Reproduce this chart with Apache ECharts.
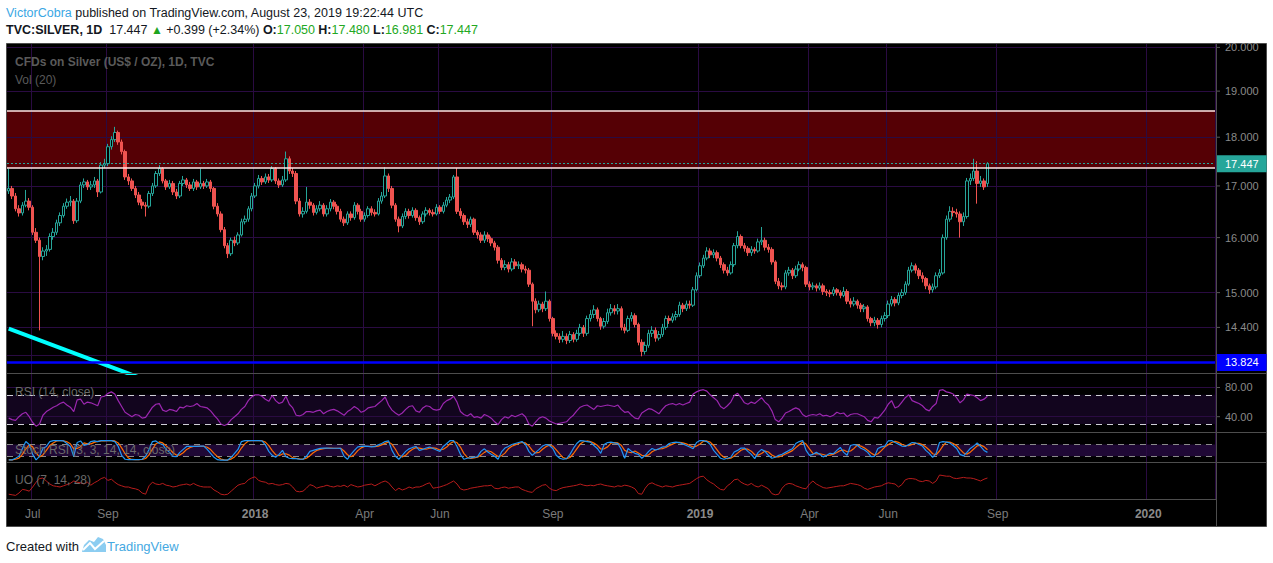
<!DOCTYPE html>
<html><head><meta charset="utf-8">
<script src="https://cdn.jsdelivr.net/npm/echarts@6/dist/echarts.min.js"></script>
<style>html,body{margin:0;padding:0;background:#fff;}#c{width:1273px;height:563px;}</style>
</head><body><div id="c"></div><script>
// ---- data (each candle = 2 trading days), [open, close, low, high]
const candles = [
[16.90,16.95,16.84,17.35],[16.95,16.80,16.74,17.00],[16.80,16.55,16.50,16.86],[16.55,16.47,16.40,16.62],[16.47,16.62,16.42,16.68],[16.62,16.70,16.58,16.92],[16.70,16.58,16.52,16.76],[16.58,16.10,16.05,16.62],[16.10,15.95,15.90,16.18],[15.95,15.65,14.35,16.00],
[15.65,15.75,15.58,15.82],[15.75,15.78,15.66,15.86],[15.78,16.02,15.74,16.08],[16.02,16.10,15.96,16.18],[16.10,16.28,16.05,16.34],[16.28,16.42,16.22,16.48],[16.42,16.60,16.38,16.66],[16.60,16.68,16.55,16.75],[16.68,16.70,16.60,16.80],[16.70,16.32,16.26,16.74],
[16.32,16.70,16.28,16.76],[16.70,17.02,16.66,17.08],[17.02,17.08,16.96,17.15],[17.08,16.98,16.92,17.12],[16.98,17.02,16.92,17.10],[17.02,17.10,16.96,17.18],[17.10,16.88,16.78,17.14],[16.88,17.42,16.85,17.48],[17.42,17.45,17.36,17.55],[17.45,17.80,17.40,17.86],
[17.80,17.95,17.74,18.02],[17.95,18.10,17.90,18.22],[18.10,17.90,17.84,18.14],[17.90,17.70,17.64,17.95],[17.70,17.18,17.12,17.74],[17.18,17.10,17.02,17.24],[17.10,16.95,16.90,17.15],[16.95,16.82,16.76,17.00],[16.82,16.68,16.62,16.88],[16.68,16.62,16.55,16.74],
[16.62,16.60,16.40,16.68],[16.60,16.85,16.56,16.90],[16.85,17.00,16.80,17.06],[17.00,17.25,16.96,17.30],[17.25,17.35,17.20,17.42],[17.35,17.10,17.05,17.38],[17.10,16.98,16.92,17.14],[16.98,17.05,16.94,17.12],[17.05,16.88,16.82,17.10],[16.88,16.80,16.74,16.94],
[16.80,17.05,16.76,17.10],[17.05,17.12,17.00,17.20],[17.12,17.02,16.96,17.16],[17.02,16.95,16.90,17.08],[16.95,17.08,16.90,17.14],[17.08,16.98,16.92,17.12],[16.98,17.05,16.94,17.35],[17.05,17.00,16.94,17.10],[17.00,17.08,16.96,17.14],[17.08,16.95,16.88,17.12],
[16.95,16.60,16.54,16.98],[16.60,16.45,16.40,16.66],[16.45,16.15,16.10,16.50],[16.15,15.85,15.80,16.20],[15.85,15.70,15.62,15.90],[15.70,15.95,15.66,16.00],[15.95,15.90,15.84,16.02],[15.90,16.05,15.86,16.10],[16.05,16.30,16.02,16.36],[16.30,16.35,16.25,16.42],
[16.35,16.55,16.30,16.60],[16.55,16.80,16.50,16.86],[16.80,17.00,16.76,17.06],[17.00,17.15,16.95,17.22],[17.15,17.08,17.02,17.20],[17.08,17.18,17.04,17.25],[17.18,17.12,17.06,17.24],[17.12,17.35,17.08,17.40],[17.35,17.10,17.04,17.38],[17.10,17.02,16.96,17.15],
[17.02,17.12,16.98,17.20],[17.12,17.55,17.08,17.70],[17.55,17.30,17.24,17.60],[17.30,17.25,17.18,17.36],[17.25,16.70,16.64,17.30],[16.70,16.45,16.40,16.76],[16.45,16.50,16.38,16.58],[16.50,16.68,16.46,16.98],[16.68,16.62,16.55,16.74],[16.62,16.48,16.42,16.66],
[16.48,16.55,16.44,16.62],[16.55,16.62,16.50,16.70],[16.62,16.45,16.40,16.66],[16.45,16.55,16.40,16.62],[16.55,16.68,16.50,16.74],[16.68,16.60,16.54,16.72],[16.60,16.50,16.44,16.64],[16.50,16.35,16.30,16.55],[16.35,16.28,16.22,16.40],[16.28,16.45,16.24,16.50],
[16.45,16.38,16.32,16.50],[16.38,16.62,16.34,16.68],[16.62,16.50,16.44,16.66],[16.50,16.35,16.30,16.55],[16.35,16.42,16.30,16.48],[16.42,16.55,16.38,16.60],[16.55,16.48,16.42,16.60],[16.48,16.45,16.40,16.54],[16.45,16.70,16.42,16.76],[16.70,16.80,16.65,16.88],
[16.80,17.20,16.76,17.38],[17.20,16.95,16.88,17.25],[16.95,16.62,16.56,17.00],[16.62,16.35,16.30,16.66],[16.35,16.22,16.10,16.40],[16.22,16.40,16.18,16.46],[16.40,16.50,16.35,16.56],[16.50,16.42,16.36,16.55],[16.42,16.52,16.38,16.58],[16.52,16.38,16.32,16.56],
[16.38,16.30,16.24,16.42],[16.30,16.45,16.26,16.50],[16.45,16.52,16.40,16.58],[16.52,16.48,16.42,16.56],[16.48,16.45,16.40,16.54],[16.45,16.58,16.42,16.64],[16.58,16.50,16.45,16.62],[16.50,16.62,16.46,16.68],[16.62,16.72,16.58,16.78],[16.72,16.78,16.66,16.84],
[16.78,17.18,16.74,17.22],[17.18,16.50,16.45,17.36],[16.50,16.42,16.36,16.56],[16.42,16.30,16.24,16.46],[16.30,16.25,16.18,16.36],[16.25,16.35,16.20,16.40],[16.35,16.10,16.05,16.38],[16.10,16.05,15.98,16.14],[16.05,15.95,15.90,16.10],[15.95,16.05,15.90,16.12],
[16.05,15.98,15.92,16.10],[15.98,15.90,15.84,16.02],[15.90,15.82,15.76,15.94],[15.82,15.58,15.52,15.86],[15.58,15.45,15.40,15.62],[15.45,15.50,15.40,15.58],[15.50,15.42,15.36,15.55],[15.42,15.55,15.38,15.62],[15.55,15.48,15.42,15.60],[15.48,15.50,15.42,15.56],
[15.50,15.42,15.36,15.54],[15.42,15.40,15.34,15.48],[15.40,15.15,15.10,15.44],[15.15,14.85,14.42,15.18],[14.85,14.70,14.64,14.90],[14.70,14.80,14.66,14.86],[14.80,14.72,14.66,14.84],[14.72,14.85,14.68,15.02],[14.85,14.55,14.50,14.88],[14.55,14.30,14.25,14.58],
[14.30,14.25,14.20,14.35],[14.25,14.20,14.14,14.30],[14.20,14.25,14.15,14.34],[14.25,14.18,14.12,14.30],[14.18,14.28,14.14,14.34],[14.28,14.20,14.15,14.32],[14.20,14.30,14.16,14.36],[14.30,14.40,14.26,14.46],[14.40,14.30,14.24,14.44],[14.30,14.55,14.26,14.60],
[14.55,14.62,14.50,14.70],[14.62,14.70,14.56,14.78],[14.70,14.55,14.50,14.74],[14.55,14.42,14.36,14.58],[14.42,14.50,14.38,14.56],[14.50,14.65,14.46,14.72],[14.65,14.72,14.60,14.80],[14.72,14.68,14.62,14.78],[14.68,14.72,14.62,14.80],[14.72,14.40,14.35,14.76],
[14.40,14.35,14.30,14.46],[14.35,14.55,14.32,14.60],[14.55,14.60,14.50,14.66],[14.60,14.45,14.40,14.64],[14.45,14.15,14.10,14.48],[14.15,14.00,13.92,14.20],[14.00,14.10,13.95,14.16],[14.10,14.30,14.06,14.36],[14.30,14.35,14.24,14.42],[14.35,14.22,14.16,14.40],
[14.22,14.28,14.18,14.34],[14.28,14.40,14.24,14.46],[14.40,14.55,14.36,14.60],[14.55,14.52,14.46,14.60],[14.52,14.58,14.48,14.64],[14.58,14.62,14.52,14.68],[14.62,14.78,14.58,14.84],[14.78,14.72,14.66,14.82],[14.72,14.80,14.68,14.86],[14.80,14.78,14.72,14.86],
[14.78,15.05,14.75,15.10],[15.05,15.30,15.02,15.36],[15.30,15.48,15.26,15.54],[15.48,15.62,15.44,15.68],[15.62,15.75,15.58,15.82],[15.75,15.68,15.62,15.80],[15.68,15.72,15.62,15.78],[15.72,15.62,15.56,15.76],[15.62,15.50,15.44,15.66],[15.50,15.40,15.34,15.54],
[15.40,15.35,15.30,15.46],[15.35,15.50,15.32,15.56],[15.50,15.85,15.46,15.90],[15.85,16.02,15.80,16.12],[16.02,15.85,15.80,16.06],[15.85,15.80,15.74,15.90],[15.80,15.72,15.66,15.84],[15.72,15.78,15.66,15.84],[15.78,15.75,15.70,15.82],[15.75,15.92,15.72,15.98],
[15.92,15.95,15.86,16.20],[15.95,15.82,15.76,16.00],[15.82,15.78,15.72,15.88],[15.78,15.55,15.50,15.82],[15.55,15.20,15.15,15.58],[15.20,15.12,15.06,15.26],[15.12,15.10,15.04,15.18],[15.10,15.35,15.06,15.40],[15.35,15.40,15.30,15.46],[15.40,15.30,15.24,15.44],
[15.30,15.42,15.26,15.48],[15.42,15.50,15.38,15.56],[15.50,15.45,15.38,15.54],[15.45,15.15,15.10,15.48],[15.15,15.10,15.04,15.20],[15.10,15.12,15.05,15.18],[15.12,15.08,15.02,15.16],[15.08,15.12,15.04,15.18],[15.12,15.02,14.96,15.16],[15.02,15.00,14.94,15.06],
[15.00,14.98,14.92,15.05],[14.98,15.05,14.94,15.10],[15.05,15.00,14.95,15.08],[15.00,14.95,14.90,15.04],[14.95,15.02,14.92,15.10],[15.02,14.85,14.80,15.06],[14.85,14.80,14.74,14.90],[14.80,14.85,14.76,14.92],[14.85,14.78,14.72,14.88],[14.78,14.72,14.66,14.82],
[14.72,14.75,14.66,14.80],[14.75,14.55,14.50,14.78],[14.55,14.48,14.42,14.58],[14.48,14.52,14.42,14.58],[14.52,14.45,14.38,14.56],[14.45,14.55,14.40,14.60],[14.55,14.60,14.50,14.66],[14.60,14.80,14.56,14.86],[14.80,14.88,14.76,14.94],[14.88,14.82,14.76,14.92],
[14.82,14.95,14.78,15.00],[14.95,15.00,14.90,15.06],[15.00,15.15,14.96,15.20],[15.15,15.40,15.12,15.46],[15.40,15.48,15.36,15.54],[15.48,15.40,15.34,15.52],[15.40,15.30,15.24,15.44],[15.30,15.25,15.18,15.36],[15.25,15.12,15.06,15.28],[15.12,15.05,14.98,15.16],
[15.05,15.10,15.00,15.16],[15.10,15.30,15.06,15.36],[15.30,15.35,15.26,15.42],[15.35,16.00,15.32,16.06],[16.00,16.35,15.96,16.42],[16.35,16.50,16.30,16.60],[16.50,16.48,16.40,16.58],[16.48,16.45,16.38,16.55],[16.45,16.30,16.00,16.50],[16.30,16.40,16.22,16.48],
[16.40,17.10,16.36,17.16],[17.10,17.15,17.02,17.25],[17.15,17.30,17.10,17.55],[17.30,17.05,16.65,17.50],[17.05,17.10,16.98,17.20],[17.10,16.98,16.92,17.15],[17.05,17.447,16.981,17.48]
];
const rsi = [38,36,35,40,44,46,40,32,27,30,42,47,50,53,55,58,60,56,53,47,63,64,57,60,59,57,55,67,68,72,
74,71,62,54,46,43,40,43,42,38,39,46,53,57,58,49,47,50,49,47,53,52,55,54,55,58,54,53,52,48,
42,37,30,28,30,36,40,44,50,54,62,67,70,70,68,64,61,69,62,58,60,68,57,52,42,41,43,47,47,46,
48,49,44,47,49,50,48,45,42,47,50,54,51,46,48,52,53,54,58,62,67,56,49,45,42,45,50,54,55,48,
46,52,55,54,50,49,50,58,62,64,68,60,47,43,41,44,39,40,38,43,41,38,33,29,36,40,38,42,40,42,
44,40,30,27,33,38,40,38,34,32,30,31,32,33,38,42,48,53,55,56,53,50,55,54,55,56,55,54,56,50,
46,47,42,38,37,45,48,51,50,47,44,50,55,57,58,56,58,56,58,60,71,74,76,77,75,70,66,62,54,51,
55,60,69,72,66,59,57,60,58,62,66,60,56,48,36,33,38,45,47,50,52,50,43,40,42,43,42,44,41,42,
40,42,46,44,45,40,43,44,44,42,40,35,33,39,38,43,49,57,62,52,54,60,66,70,62,60,58,55,50,48,
54,58,76,77,74,73,71,66,59,63,71,70,69,66,62,64,68];
const stochK = [2,2,10,20,60,95,80,30,2,20,60,70,95,100,100,100,98,85,70,20,90,98,75,80,95,98,95,100,100,100,
100,95,70,25,5,3,3,3,3,5,20,55,95,98,85,80,55,40,20,18,40,55,70,70,70,70,72,72,55,35,
15,3,1,1,1,15,35,55,95,100,100,100,100,100,98,78,45,25,15,30,50,18,10,8,8,5,5,20,45,50,
55,60,62,62,61,61,61,60,20,5,30,50,68,70,72,70,68,70,78,85,95,98,50,20,5,25,45,58,65,70,
50,55,62,67,60,52,45,70,85,100,100,70,30,5,10,12,15,18,45,58,42,30,20,5,42,62,70,80,85,90,
95,80,45,25,40,55,72,80,75,60,25,10,5,8,30,60,85,100,98,95,92,75,60,35,80,90,92,88,85,55,
10,60,45,35,30,10,25,45,60,52,58,67,70,85,90,92,90,83,75,67,58,90,100,100,95,80,50,30,10,5,
10,15,42,50,62,62,45,30,8,40,55,45,25,10,15,25,30,40,50,58,85,95,100,50,25,30,40,30,17,25,
35,33,50,65,40,25,75,80,75,61,53,40,18,20,60,68,72,98,100,90,82,72,70,80,90,88,80,72,50,35,
15,35,90,95,92,88,75,60,30,22,40,60,72,88,70,50,40];
const stochD = [2,2,5,11,30,58,78,68,37,17,27,50,75,88,98,100,99,94,84,58,60,69,88,84,83,91,96,98,98,100,
100,98,88,63,33,11,4,3,3,4,9,27,57,83,93,88,73,58,38,26,26,38,55,65,70,70,71,71,66,54,
35,18,6,2,1,6,17,35,62,83,98,100,100,100,99,92,74,49,28,23,32,33,26,12,9,7,6,10,23,38,
50,55,59,61,62,61,61,61,47,28,18,28,49,63,70,71,70,69,72,78,86,93,81,56,25,17,25,43,56,64,
62,58,56,61,63,60,52,56,67,85,95,90,67,35,15,9,12,15,26,40,48,43,31,19,22,36,58,71,78,85,
90,88,73,50,37,40,56,69,76,72,53,32,13,8,14,33,58,82,94,98,95,87,76,57,58,68,87,90,88,76,
50,42,38,47,37,25,22,27,43,52,57,59,65,74,82,89,91,88,83,75,67,72,83,97,98,92,75,53,30,15,
8,10,22,36,51,58,56,46,28,26,34,47,42,27,17,17,23,32,40,49,64,79,93,82,58,35,32,33,29,24,
26,31,39,49,52,43,47,60,77,72,63,51,37,26,33,49,67,79,90,96,91,81,75,74,80,86,86,80,67,52,
33,28,47,73,92,92,85,74,55,37,31,41,57,73,77,69,53];
const uo = [28,27,26,30,36,35,33,40,48,54,55,50,45,42,41,40,42,44,46,50,48,47,45,48,43,47,50,54,56,51,
53,48,44,42,40,40,38,37,35,30,28,42,48,45,44,46,43,42,40,41,43,44,45,43,46,43,41,40,40,40,
35,32,28,27,28,33,38,43,45,46,52,55,57,51,49,48,45,46,44,43,44,46,45,40,33,32,33,38,44,42,
38,40,41,43,41,40,42,41,43,40,44,42,40,41,43,44,45,42,45,48,50,47,40,34,38,35,37,40,38,40,
40,42,45,47,38,39,40,42,44,47,50,45,37,35,36,38,39,40,41,42,42,43,38,37,39,40,38,39,40,40,
36,34,32,31,37,40,43,44,38,35,34,37,39,40,41,42,43,45,43,42,43,42,44,45,43,42,41,40,42,41,
43,42,40,37,29,28,38,45,47,44,42,40,42,41,40,42,43,44,45,46,50,54,57,58,52,48,45,40,36,35,
42,46,52,53,48,45,43,46,42,40,43,40,37,29,27,28,38,44,46,45,42,40,38,37,45,50,45,42,39,38,
39,40,41,42,42,44,46,45,44,42,38,36,38,40,41,42,45,47,46,45,40,44,52,54,54,53,50,49,51,50,
46,50,60,59,58,58,55,54,55,56,55,55,54,52,50,53,55];
const priceLevels = [20, 19, 18, 17, 16, 15, 14.4];
const extraGridLevel = 13.94;
const zoneTop = 18.57, zoneBottom = 17.36;
const lastPrice = 17.447, supportLevel = 13.824;
const trendLine = [[0, 14.38], [40, 13.54]];
const rsiLevels = [80, 40], rsiBand = [30, 70];
const stochBand = [20, 80];
const tickLabels = [['2017-07-03','Jul'],['2017-09-01','Sep'],['2018-01-01','2018'],['2018-04-02','Apr'],['2018-06-01','Jun'],['2018-09-03','Sep'],['2019-01-01','2019'],['2019-04-01','Apr'],['2019-06-03','Jun'],['2019-09-02','Sep'],['2020-01-01','2020']];

// ---- categories: 2-trading-day slots from 2017-06-13 across the visible range (incl. future space)
const slotCount = 353;
const categories = [];
{
  const d = new Date(Date.UTC(2017, 5, 13));
  while (categories.length < slotCount) {
    categories.push(d.toISOString().slice(0, 10));
    let n = 0;
    while (n < 2) { d.setUTCDate(d.getUTCDate() + 1); const w = d.getUTCDay(); if (w !== 0 && w !== 6) n++; }
  }
}
const tickAt = {};
tickLabels.forEach(([date, label]) => {
  for (let i = 0; i < categories.length; i++) {
    if (categories[i] <= date && (i + 1 >= categories.length || categories[i + 1] > date)) { tickAt[categories[i]] = label; break; }
  }
});

const FONT = '"Liberation Sans", Arial, sans-serif';
const GRID_COLOR = '#2a0b42';

function xAx(gi, showLabels) {
  return {
    type: 'category', gridIndex: gi, data: categories, boundaryGap: true,
    axisLine: { show: false }, axisTick: { show: false },
    splitLine: { show: true, interval: (i, v) => tickAt[v] !== undefined || tickAt[categories[i]] !== undefined, lineStyle: { color: GRID_COLOR, width: 1 } },
    axisLabel: showLabels ? {
      show: true, margin: 9,
      interval: (i, v) => tickAt[v] !== undefined,
      formatter: (v) => { const t = tickAt[v] || ''; return /^\d{4}$/.test(t) ? '{y|' + t + '}' : '{m|' + t + '}'; },
      rich: { m: { color: '#7b7b7b', fontSize: 12, fontFamily: FONT }, y: { color: '#8a8a8a', fontSize: 12, fontWeight: 'bold', fontFamily: FONT } }
    } : { show: false }
  };
}
// price-scale label with a small tick mark in front of it
function scaleLabel(text) {
  return {
    show: true, position: 'end', distance: 1, formatter: '{t| }{v|' + text + '}',
    rich: { t: { width: 4, height: 1, backgroundColor: '#5a5a5a', fontSize: 1 }, v: { color: '#8a8a8a', fontSize: 11, fontFamily: FONT, padding: [0, 0, 0, 5] } }
  };
}
const noLbl = { show: false };

const grids = [
  { left: 7, right: 58, top: 44, height: 329 },
  { left: 7, right: 58, top: 374, height: 58 },
  { left: 7, right: 58, top: 433, height: 29 },
  { left: 7, right: 58, top: 463, height: 36 }
].map(g => Object.assign({ outerBoundsMode: 'none', containLabel: false }, g));

const option = {
  animation: false,
  backgroundColor: '#ffffff',
  textStyle: { fontFamily: FONT },
  grid: grids,
  xAxis: [xAx(0, false), xAx(1, false), xAx(2, false), xAx(3, true)],
  yAxis: [
    { type: 'log', logBase: 10, gridIndex: 0, min: 13.65, max: 20.08, show: false, splitLine: { show: false } },
    { type: 'value', gridIndex: 1, min: 19, max: 98.5, show: false, splitLine: { show: false } },
    { type: 'value', gridIndex: 2, min: -9, max: 138.5, show: false, splitLine: { show: false } },
    { type: 'value', gridIndex: 3, min: 20, max: 80, show: false, splitLine: { show: false } }
  ],
  series: [
    {
      type: 'candlestick', name: 'SILVER', xAxisIndex: 0, yAxisIndex: 0, data: candles, barWidth: 3, z: 2,
      itemStyle: { color: '#000000', color0: '#ef5350', borderColor: '#26a69a', borderColor0: '#ef5350', borderWidth: 1 },
      markArea: { silent: true, z: -1, itemStyle: { color: '#550005', opacity: 1 }, label: { show: false },
        data: [[{ yAxis: zoneBottom }, { yAxis: zoneTop }]] },
      markLine: { silent: true, z: 1, symbol: ['none', 'none'], lineStyle: { color: GRID_COLOR, type: 'solid', width: 1 },
        data: priceLevels.map(v => ({ yAxis: v, label: scaleLabel(v.toFixed(3)) }))
          .concat([{ yAxis: extraGridLevel, label: noLbl }]) }
    },
    {
      type: 'line', name: 'trend', xAxisIndex: 0, yAxisIndex: 0, data: trendLine, symbol: 'none', showSymbol: false, clip: true, z: 3,
      lineStyle: { color: '#00ffff', width: 4 },
      markLine: { silent: true, z: 5, symbol: ['none', 'none'],
        data: [
          { yAxis: zoneTop, lineStyle: { color: '#ffe4e4', width: 1.5, type: 'solid' }, label: noLbl },
          { yAxis: zoneBottom, lineStyle: { color: '#ffe4e4', width: 1.5, type: 'solid' }, label: noLbl },
          { yAxis: lastPrice, lineStyle: { color: '#26a69a', width: 1, type: [2, 2] },
            label: { show: true, position: 'end', distance: 1, formatter: '17.447', backgroundColor: '#26a69a', color: '#ffffff', padding: [3, 8, 3, 9], fontSize: 11, fontFamily: FONT } },
          { yAxis: supportLevel, lineStyle: { color: '#0000ff', width: 2.5, type: 'solid' },
            label: { show: true, position: 'end', distance: 1, formatter: '13.824', backgroundColor: '#0000ff', color: '#ffffff', padding: [3, 8, 3, 9], fontSize: 11, fontFamily: FONT } }
        ] }
    },
    {
      type: 'line', name: 'RSI', xAxisIndex: 1, yAxisIndex: 1, data: rsi, symbol: 'none', showSymbol: false, z: 2,
      lineStyle: { color: '#9c27b0', width: 1.2 },
      markArea: { silent: true, z: -1, itemStyle: { color: '#12051e', opacity: 1 }, label: { show: false },
        data: [[{ yAxis: rsiBand[0] }, { yAxis: rsiBand[1] }]] },
      markLine: { silent: true, z: 1, symbol: ['none', 'none'],
        data: rsiLevels.map(v => ({ yAxis: v, lineStyle: { color: GRID_COLOR, type: 'solid', width: 1 }, label: scaleLabel(v.toFixed(2)) }))
          .concat(rsiBand.map(v => ({ yAxis: v, lineStyle: { color: '#cfcfd6', type: [6, 5], width: 1 }, label: noLbl }))) }
    },
    {
      type: 'line', name: '%D', xAxisIndex: 2, yAxisIndex: 2, data: stochD, symbol: 'none', showSymbol: false, z: 2,
      lineStyle: { color: '#ff6d00', width: 1.2 },
      markArea: { silent: true, z: -1, itemStyle: { color: '#1f0835', opacity: 1 }, label: { show: false },
        data: [[{ yAxis: stochBand[0] }, { yAxis: stochBand[1] }]] },
      markLine: { silent: true, z: 1, symbol: ['none', 'none'],
        data: stochBand.map(v => ({ yAxis: v, lineStyle: { color: '#8a8a8a', type: [6, 5], width: 1 }, label: noLbl }))
          .concat([{ yAxis: 0, lineStyle: { color: '#000000', opacity: 0 }, label: scaleLabel('0.00') }]) }
    },
    {
      type: 'line', name: '%K', xAxisIndex: 2, yAxisIndex: 2, data: stochK, symbol: 'none', showSymbol: false, z: 3,
      lineStyle: { color: '#2196f3', width: 1.2 }
    },
    {
      type: 'line', name: 'UO', xAxisIndex: 3, yAxisIndex: 3, data: uo, symbol: 'none', showSymbol: false, z: 2,
      lineStyle: { color: '#b71c1c', width: 1 }
    }
  ],
  graphic: [
    { type: 'rect', z: -10, silent: true, shape: { x: 6.5, y: 43.5, width: 1260, height: 483 }, style: { fill: '#000000', stroke: '#4d4d4d', lineWidth: 1 } },
    { type: 'line', z: 10, silent: true, shape: { x1: 7, y1: 373.5, x2: 1266, y2: 373.5 }, style: { stroke: '#4d4d4d', lineWidth: 1 } },
    { type: 'line', z: 10, silent: true, shape: { x1: 7, y1: 432.5, x2: 1266, y2: 432.5 }, style: { stroke: '#4d4d4d', lineWidth: 1 } },
    { type: 'line', z: 10, silent: true, shape: { x1: 7, y1: 462.5, x2: 1266, y2: 462.5 }, style: { stroke: '#4d4d4d', lineWidth: 1 } },
    { type: 'line', z: 10, silent: true, shape: { x1: 7, y1: 499.5, x2: 1216, y2: 499.5 }, style: { stroke: '#4d4d4d', lineWidth: 1 } },
    { type: 'line', z: 10, silent: true, shape: { x1: 1216.5, y1: 44, x2: 1216.5, y2: 526 }, style: { stroke: '#4d4d4d', lineWidth: 1 } },
    { type: 'text', z: 100, silent: true, x: 6, y: 13, style: {
      text: '{u|VictorCobra}{p| published on TradingView.com, August 23, 2019 19:22:44 UTC}', verticalAlign: 'middle',
      rich: { u: { fill: '#3aa7e4', fontSize: 12.5, fontFamily: FONT }, p: { fill: '#131722', fontSize: 12.5, fontFamily: FONT } } } },
    { type: 'text', z: 100, silent: true, x: 6, y: 30, style: {
      text: '{b|TVC:SILVER, 1D}{n|  17.447 }{g|▲}{n| +0.399 (+2.34%) }{b|O:}{v|17.050} {b|H:}{v|17.480} {b|L:}{v|16.981} {b|C:}{v|17.447}', verticalAlign: 'middle',
      rich: { b: { fill: '#131722', fontSize: 12.5, fontWeight: 'bold', fontFamily: FONT }, n: { fill: '#131722', fontSize: 12.5, fontFamily: FONT },
        g: { fill: '#1fa51f', fontSize: 12, fontFamily: FONT }, v: { fill: '#22a822', fontSize: 12.5, fontFamily: FONT } } } },
    { type: 'text', z: 100, silent: true, x: 15, y: 62, style: { text: 'CFDs on Silver (US$ / OZ), 1D, TVC', verticalAlign: 'middle', fill: '#5a5a5a', font: 'bold 12px ' + FONT } },
    { type: 'text', z: 100, silent: true, x: 15, y: 80, style: { text: 'Vol (20)', verticalAlign: 'middle', fill: '#5a5a5a', font: '12px ' + FONT } },
    { type: 'text', z: 100, silent: true, x: 15, y: 392, style: { text: 'RSI (14, close)', verticalAlign: 'middle', fill: '#6a6a6a', font: '12px ' + FONT } },
    { type: 'text', z: 100, silent: true, x: 15, y: 450, style: { text: 'Stoch RSI (3, 3, 14, 14, close)', verticalAlign: 'middle', fill: '#6a6a6a', font: '12px ' + FONT } },
    { type: 'text', z: 100, silent: true, x: 15, y: 480, style: { text: 'UO (7, 14, 28)', verticalAlign: 'middle', fill: '#6a6a6a', font: '12px ' + FONT } },
    { type: 'text', z: 100, silent: true, x: 6, y: 546, style: { text: 'Created with', verticalAlign: 'middle', fill: '#131722', font: '13px ' + FONT } },
    { type: 'polygon', z: 100, silent: true, shape: { points: [[82, 552], [84, 545], [89, 540], [94, 542], [98, 537], [103, 539], [106, 545], [106, 552]] }, style: { fill: '#8ccdf1' } },
    { type: 'polyline', z: 101, silent: true, shape: { points: [[83, 550], [90, 543], [95, 549], [104, 541]] }, style: { stroke: '#ffffff', lineWidth: 2, fill: null } },
    { type: 'text', z: 100, silent: true, x: 107, y: 546, style: { text: 'TradingView', verticalAlign: 'middle', fill: '#45a9e2', font: '13px ' + FONT } }
  ]
};
const chart = echarts.init(document.getElementById('c'), null, { renderer: 'svg', width: 1273, height: 563 });
chart.setOption(option);
</script></body></html>
